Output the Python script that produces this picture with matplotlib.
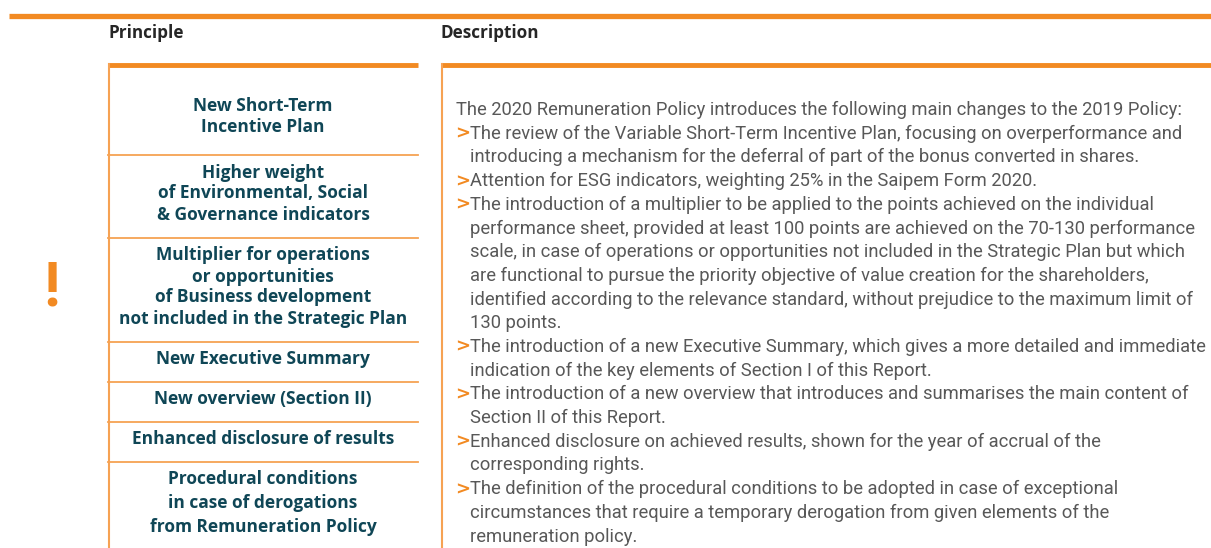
import matplotlib
matplotlib.use("Agg")
import matplotlib.pyplot as plt

# ---------------- data ----------------
header_left = "Principle"
header_right = "Description"

principles = [
    ["New Short-Term", "Incentive Plan"],
    ["Higher weight", "of Environmental, Social", "& Governance indicators"],
    ["Multiplier for operations", "or opportunities", "of Business development",
     "not included in the Strategic Plan"],
    ["New Executive Summary"],
    ["New overview (Section II)"],
    ["Enhanced disclosure of results"],
    ["Procedural conditions", "in case of derogations", "from Remuneration Policy"],
]

intro = "The 2020 Remuneration Policy introduces the following main changes to the 2019 Policy:"
bullets = [
    ["The review of the Variable Short-Term Incentive Plan, focusing on overperformance and",
     "introducing a mechanism for the deferral of part of the bonus converted in shares."],
    ["Attention for ESG indicators, weighting 25% in the Saipem Form 2020."],
    ["The introduction of a multiplier to be applied to the points achieved on the individual",
     "performance sheet, provided at least 100 points are achieved on the 70-130 performance",
     "scale, in case of operations or opportunities not included in the Strategic Plan but which",
     "are functional to pursue the priority objective of value creation for the shareholders,",
     "identified according to the relevance standard, without prejudice to the maximum limit of",
     "130 points."],
    ["The introduction of a new Executive Summary, which gives a more detailed and immediate",
     "indication of the key elements of Section I of this Report."],
    ["The introduction of a new overview that introduces and summarises the main content of",
     "Section II of this Report."],
    ["Enhanced disclosure on achieved results, shown for the year of accrual of the",
     "corresponding rights."],
    ["The definition of the procedural conditions to be adopted in case of exceptional",
     "circumstances that require a temporary derogation from given elements of the",
     "remuneration policy."],
]

# ---------------- style ----------------
ORANGE = "#f28a22"
ORANGE_LIGHT = "#f6a253"
TEAL = "#0f4656"
GREY = "#585858"
W, H = 1211, 548

fig = plt.figure(figsize=(W / 100, H / 100), dpi=100)
ax = fig.add_axes([0, 0, 1, 1])
ax.set_xlim(0, W)
ax.set_ylim(H, 0)
ax.axis("off")

# top rule
ax.plot([9, W], [16, 16], color=ORANGE, lw=3.8, solid_capstyle="butt")

# headers
ax.text(108, 33, header_left, fontsize=12.3, fontweight="bold", color="#262626",
        family="Open Sans", va="center", ha="left")
ax.text(441, 33, header_right, fontsize=12.3, fontweight="bold", color="#262626",
        family="Open Sans", va="center", ha="left")

# left box
row_bounds = [64, 155, 238, 342, 382, 422, 462, 560]
ax.plot([108, 418], [65, 65], color=ORANGE, lw=3.5, solid_capstyle="butt")
ax.plot([108.5, 108.5], [64, H], color=ORANGE_LIGHT, lw=1.5)
for yb in row_bounds[1:-1]:
    ax.plot([108, 418], [yb, yb], color=ORANGE_LIGHT, lw=1.3)

# right box
ax.plot([441, W], [65, 65], color=ORANGE, lw=3.5, solid_capstyle="butt")
ax.plot([441.5, 441.5], [64, H], color=ORANGE_LIGHT, lw=1.5)

# principles text
cx = 263
for i, lines in enumerate(principles):
    top = row_bounds[i] + (20 if i == 0 else 0)
    bot = row_bounds[i + 1] if i < len(principles) - 1 else 550
    step = 24.5 if i == len(principles) - 1 else 21
    center = (top + bot) / 2 - 3
    n = len(lines)
    for j, ln in enumerate(lines):
        y = center + (j - (n - 1) / 2) * step
        ax.text(cx, y, ln, fontsize=12.5, fontweight="bold", color=TEAL,
                family="Open Sans", ha="center", va="center")

# exclamation mark
ax.text(52, 288, "!", fontsize=44, fontweight="bold", color=ORANGE,
        family="Roboto", ha="center", va="center")

# description
step = 23.7
y = 110
ax.text(456, y, intro, fontsize=13.2, fontweight="normal", color=GREY,
        family="Roboto", ha="left", va="center")
for b in bullets:
    for j, ln in enumerate(b):
        y += step
        if j == 0:
            ax.text(455, y, ">", fontsize=13, fontweight="bold", color=ORANGE,
                    family="DejaVu Sans", ha="left", va="center")
        ax.text(470, y, ln, fontsize=13.2, fontweight="normal", color=GREY,
                family="Roboto", ha="left", va="center")

fig.savefig("out.png", dpi=100)
